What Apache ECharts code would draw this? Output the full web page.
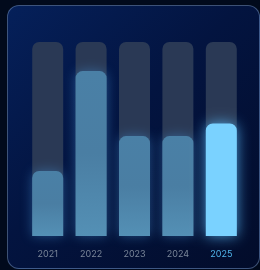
<!DOCTYPE html>
<html>
<head>
<meta charset="utf-8">
<script src="https://cdn.jsdelivr.net/npm/echarts@6/dist/echarts.min.js"></script>
<style>
html,body{margin:0;padding:0;width:260px;height:270px;background:#010a1c;overflow:hidden}
#card{position:absolute;left:7px;top:5px;width:253px;height:264px;border-radius:12px;
border:1px solid rgba(120,150,190,0.5);box-sizing:border-box;
background:linear-gradient(135deg,#05205a 0%,#031440 45%,#020c2a 100%)}
#chart{position:absolute;left:0;top:0;width:260px;height:270px}
</style>
</head>
<body>
<div id="card"></div>
<div id="chart"></div>
<script>
var years = ['2021','2022','2023','2024','2025'];
var values = [33.5, 85, 51.5, 51.5, 58];
var maxVal = 100;

var myChart = echarts.init(document.getElementById('chart'));
var bgData = years.map(function(){ return maxVal; });

var barData = values.map(function(v, i){
    if (i === years.length - 1) {
        return {
            value: v,
            itemStyle: {
                color: '#7ad2ff',
                shadowColor: 'rgba(90,190,255,0.8)',
                shadowBlur: 14
            }
        };
    }
    return {
        value: v,
        itemStyle: {
            color: new echarts.graphic.LinearGradient(0, 0, 0, 1, [
                {offset: 0, color: '#4a80a6'},
                {offset: 0.5, color: '#4a7ea3'},
                {offset: 1, color: '#5490b5'}
            ]),
            shadowColor: 'rgba(70,150,220,0.45)',
            shadowBlur: 12
        }
    };
});

var option = {
    animation: false,
    grid: {left: 26, right: 17, top: 42, bottom: 34},
    xAxis: {
        type: 'category',
        data: years,
        axisLine: {show: false},
        axisTick: {show: false},
        axisLabel: {
            margin: 14,
            fontSize: 9,
            fontFamily: 'Inter',
            color: function(v, i){ return i === years.length - 1 ? '#4fb4ea' : '#7a8699'; }
        }
    },
    yAxis: {
        type: 'value',
        min: 0,
        max: maxVal,
        show: false
    },
    series: [
        {
            type: 'bar',
            data: bgData,
            barWidth: 31,
            barGap: '-100%',
            silent: true,
            itemStyle: {color: '#2a3955', borderRadius: [7, 7, 0, 0]}
        },
        {
            type: 'bar',
            data: barData,
            barWidth: 31,
            itemStyle: {borderRadius: [7, 7, 0, 0]}
        }
    ]
};
myChart.setOption(option);
</script>
</body>
</html>
